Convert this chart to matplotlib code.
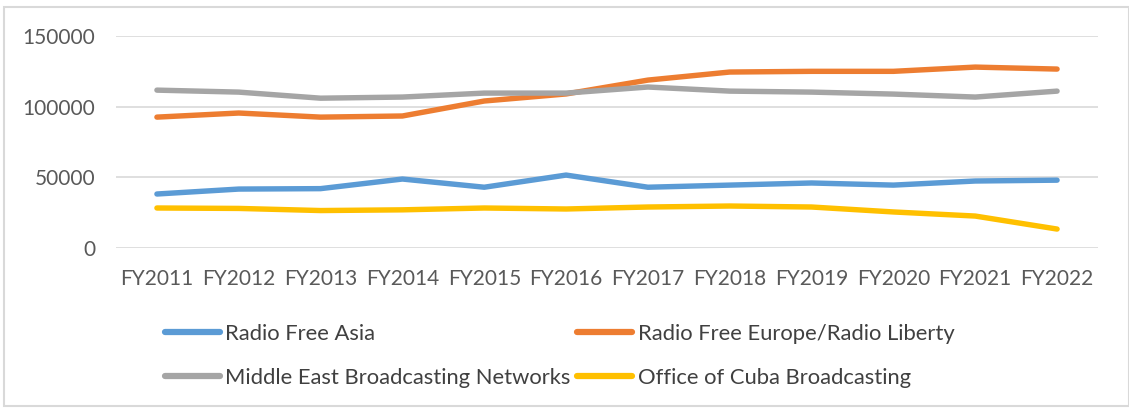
import matplotlib.pyplot as plt
import matplotlib.patches as mpatches

years = ["FY2011", "FY2012", "FY2013", "FY2014", "FY2015", "FY2016",
         "FY2017", "FY2018", "FY2019", "FY2020", "FY2021", "FY2022"]

rfa = [38200, 41700, 42000, 48800, 43000, 51600,
       43000, 44500, 46000, 44500, 47400, 48000]
rferl = [92600, 95500, 92600, 93400, 104000, 109000,
         118800, 124500, 125000, 125000, 128000, 126600]
mbn = [111700, 110300, 106000, 106800, 109600, 109600,
       113900, 111000, 110300, 108900, 106800, 111000]
ocb = [28300, 28000, 26500, 27000, 28300, 27600,
       29000, 29700, 29000, 25500, 22600, 13400]

plt.rcParams['font.family'] = ['Lato', 'DejaVu Sans']

W, H = 1129, 409
fig = plt.figure(figsize=(W / 100, H / 100), dpi=100)
ax = fig.add_axes([116 / W, 1 - 248 / H, (1098 - 116) / W, (248 - 36) / H])

x = range(len(years))
lw = 3.9
l1, = ax.plot(x, rfa, color="#5B9BD5", lw=lw, label="Radio Free Asia", solid_capstyle="round")
l2, = ax.plot(x, rferl, color="#ED7D31", lw=lw, label="Radio Free Europe/Radio Liberty", solid_capstyle="round")
l3, = ax.plot(x, mbn, color="#A5A5A5", lw=lw, label="Middle East Broadcasting Networks", solid_capstyle="round")
l4, = ax.plot(x, ocb, color="#FFC000", lw=lw, label="Office of Cuba Broadcasting", solid_capstyle="round")

ax.set_xlim(-0.5, 11.5)
ax.set_ylim(0, 150000)
ax.set_yticks([0, 50000, 100000, 150000])
ax.set_xticks(list(x))
ax.set_xticklabels(years)
ax.yaxis.grid(True, color="#D9D9D9", lw=1.2)
ax.set_axisbelow(True)
for s in ax.spines.values():
    s.set_visible(False)
ax.tick_params(length=0, labelsize=15, colors="#595959")
ax.tick_params(axis="x", pad=15)
ax.tick_params(axis="y", pad=15)

leg = fig.legend(handles=[l1, l3, l2, l4], loc="upper left",
                 bbox_to_anchor=(165 / W, 1 - 324 / H), ncol=2,
                 frameon=False, fontsize=15.8, handlelength=2.5,
                 handletextpad=0.25, columnspacing=0.3, labelspacing=1.1,
                 borderpad=0, borderaxespad=0, labelcolor="#404040")
for h in leg.legend_handles:
    h.set_linewidth(4.5)

# outer chart border
fig.patches.append(mpatches.Rectangle((4 / W, 3 / H), 1 - 4 / W, 1 - 10 / H,
                                      transform=fig.transFigure, fill=False,
                                      edgecolor="#D9D9D9", lw=1.5))

fig.savefig("out.png", dpi=100)
